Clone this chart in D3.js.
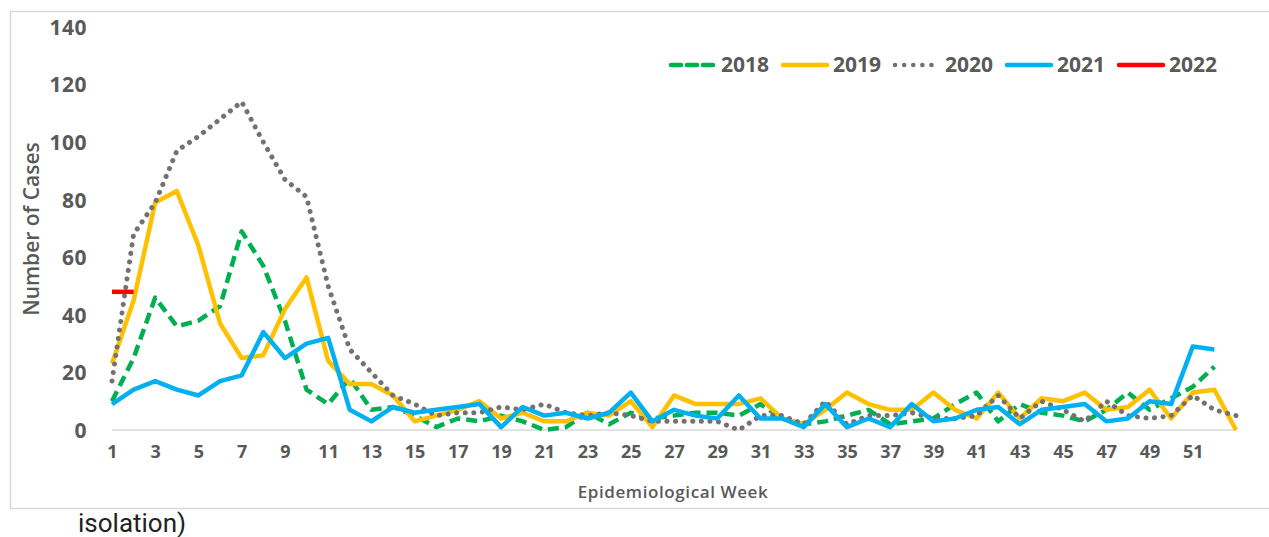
<!DOCTYPE html>
<html>
<head>
<meta charset="utf-8">
<script src="https://cdn.jsdelivr.net/npm/d3@7"></script>
<style>
  body { margin: 0; background: #fff; }
  svg { display: block; }
  .tick text { font-family: "Open Sans", sans-serif; font-weight: 700; fill: #595959; }
</style>
</head>
<body>
<div id="chart"></div>
<script>
var width = 1269, height = 537;
var margin = {top: 27, right: 33, bottom: 107, left: 112};

var weeks = [1,2,3,4,5,6,7,8,9,10,11,12,13,14,15,16,17,18,19,20,21,22,23,24,25,26,27,
  28,29,30,31,32,33,34,35,36,37,38,39,40,41,42,43,44,45,46,47,48,49,50,51,52,53];
var weekLabels = [1,3,5,7,9,11,13,15,17,19,21,23,25,27,29,31,33,35,37,39,41,43,45,47,49,51];
var yTicks = [0, 20, 40, 60, 80, 100, 120, 140];

var years = ['2018', '2019', '2020', '2021', '2022'];

var cases2018 = [10,25,46,36,38,43,69,57,38,14,9,18,7,8,5,1,4,3,5,3,0,1,6,2,6,4,5,6,6,5,
  9,4,2,3,5,7,2,3,4,9,13,3,9,6,5,3,7,13,7,11,15,22];
var cases2019 = [23,45,79,83,64,37,25,26,42,53,24,16,16,12,3,5,7,10,4,6,3,3,6,5,10,1,12,9,9,9,
  11,4,2,7,13,9,7,7,13,7,4,13,4,11,10,13,7,8,14,4,13,14,0];
var cases2020 = [17,68,79,97,102,108,114,100,87,81,50,28,20,12,9,5,6,6,8,7,9,6,5,6,5,3,3,3,3,0,
  5,5,2,10,2,5,5,6,4,4,5,12,4,10,7,3,10,5,4,5,12,7,5];
var cases2021 = [9,14,17,14,12,17,19,34,25,30,32,7,3,8,6,7,8,9,1,8,5,6,4,6,13,3,7,5,4,12,
  4,4,1,9,1,4,1,9,3,4,7,8,2,7,8,9,3,4,10,9,29,28];
var cases2022 = [48,48];

var colors = {'2018': '#00b050', '2019': '#ffc000', '2020': '#767171', '2021': '#00b0f0', '2022': '#ff0000'};
var dashes = {'2018': '11,6', '2019': null, '2020': '0.1,8.5', '2021': null, '2022': null};
var caps = {'2018': 'butt', '2019': 'butt', '2020': 'round', '2021': 'butt', '2022': 'butt'};

var series = [
  {year: '2018', values: cases2018},
  {year: '2019', values: cases2019},
  {year: '2020', values: cases2020},
  {year: '2021', values: cases2021},
  {year: '2022', values: cases2022}
];

var svg = d3.select('#chart').append('svg')
  .attr('width', width)
  .attr('height', height);

// outer frame
svg.append('rect')
  .attr('x', 10.5).attr('y', 11.5)
  .attr('width', 1270).attr('height', 497)
  .attr('fill', 'none')
  .attr('stroke', '#d9d9d9')
  .attr('stroke-width', 1.5);

var x = d3.scalePoint()
  .domain(weeks)
  .range([margin.left, width - margin.right]);

var y = d3.scaleLinear()
  .domain([0, 140])
  .range([height - margin.bottom, margin.top]);

// baseline
svg.append('line')
  .attr('x1', x(1)).attr('x2', x(53))
  .attr('y1', y(0)).attr('y2', y(0))
  .attr('stroke', '#d9d9d9')
  .attr('stroke-width', 1.5);

// y axis labels
var yAxis = svg.append('g')
  .attr('transform', 'translate(' + (margin.left - 25) + ',0)')
  .call(d3.axisLeft(y).tickValues(yTicks).tickSize(0).tickPadding(0));
yAxis.select('.domain').remove();
yAxis.selectAll('text').style('font-size', '21px').style('letter-spacing', '0.5px').attr('dy', '0.35em');

// x axis labels
var xAxis = svg.append('g')
  .attr('transform', 'translate(0,' + (y(0) + 15) + ')')
  .call(d3.axisBottom(x).tickValues(weekLabels).tickSize(0).tickPadding(0));
xAxis.select('.domain').remove();
xAxis.selectAll('text').style('font-size', '18px');

// axis titles
svg.append('text')
  .attr('x', 673).attr('y', 498)
  .attr('text-anchor', 'middle')
  .style('font-family', '"Open Sans", sans-serif')
  .style('font-weight', 600)
  .style('font-size', '17px')
  .style('letter-spacing', '0.6px')
  .style('fill', '#595959')
  .text('Epidemiological Week');

svg.append('text')
  .attr('transform', 'translate(39,229) rotate(-90)')
  .attr('text-anchor', 'middle')
  .style('font-family', '"Open Sans", sans-serif')
  .style('font-weight', 600)
  .style('font-size', '21px')
  .style('fill', '#595959')
  .text('Number of Cases');

// lines
var line = d3.line()
  .x(function(d, i) { return x(weeks[i]); })
  .y(function(d) { return y(d); });

svg.selectAll('.series')
  .data(series)
  .enter()
  .append('path')
    .attr('class', 'series')
    .attr('d', function(d) { return line(d.values); })
    .attr('fill', 'none')
    .attr('stroke', function(d) { return colors[d.year]; })
    .attr('stroke-width', function(d) { return d.year === '2020' ? 5 : 4.5; })
    .attr('stroke-dasharray', function(d) { return dashes[d.year]; })
    .attr('stroke-linecap', function(d) { return caps[d.year]; })
    .attr('stroke-linejoin', 'round');

// legend
var legend = svg.append('g').attr('transform', 'translate(669,65)');
var item = legend.selectAll('.item')
  .data(years)
  .enter()
  .append('g')
    .attr('class', 'item')
    .attr('transform', function(d, i) { return 'translate(' + (i * 112) + ',0)'; });

item.append('line')
  .attr('x1', 2).attr('x2', 46)
  .attr('y1', 0).attr('y2', 0)
  .attr('stroke', function(d) { return colors[d]; })
  .attr('stroke-width', 4.5)
  .attr('stroke-dasharray', function(d) { return d === '2018' ? '10,6' : (d === '2020' ? '0.1,9' : null); })
  .attr('stroke-linecap', 'round');

item.append('text')
  .attr('x', 52).attr('y', 0)
  .attr('dy', '0.35em')
  .style('font-family', '"Open Sans", sans-serif')
  .style('font-weight', 700)
  .style('font-size', '21px')
  .style('fill', '#595959')
  .text(function(d) { return d; });

// caption fragment below the frame
svg.append('text')
  .attr('x', 78).attr('y', 532)
  .style('font-family', 'Roboto, sans-serif')
  .style('font-size', '26px')
  .style('fill', '#222')
  .text('isolation)');
</script>
</body>
</html>
